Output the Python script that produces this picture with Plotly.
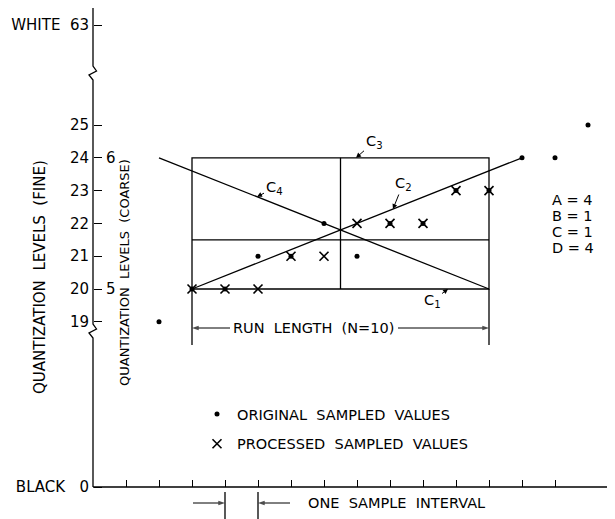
import plotly.graph_objects as go

# ---------------- data ----------------
orig_x = [2, 3, 4, 5, 6, 7, 8, 9, 10, 11, 12, 13, 14, 15]
orig_y = [19, 20, 20, 21, 21, 22, 21, 22, 22, 23, 23, 24, 24, 25]
proc_x = [3, 4, 5, 6, 7, 8, 9, 10, 11, 12]
proc_y = [20, 20, 20, 21, 21, 22, 22, 22, 23, 23]
fine_levels = [19, 20, 21, 22, 23, 24, 25]
coarse_labels = ["5", "6"]
coarse_at_fine = [20, 24]
sample_ticks = list(range(1, 15))
run_start, run_end = 3, 12
run_low, run_high = 20, 24
coarse_boundary = 21.5
c2_x = [3, 13]
c2_y = [20, 24]
c4_x = [2, 12]
c4_y = [24, 20]
code_names = ["A", "B", "C", "D"]
code_values = [4, 1, 1, 4]

# ---------------- layout geometry ----------------
OFF = 8                  # page body margin
W, H = 615 - OFF, 519 - OFF
X0PX, SX = 93, 33.0      # reference pixel of x=0, pixels per sample
Y25PX, SY = 125, 32.8    # reference pixel of level 25, pixels per level


def P(px, py):
    return (px - X0PX) / SX, 25 - (py - Y25PX) / SY


xr = [P(OFF, 0)[0], P(615, 0)[0]]
yr = [P(0, 519)[1], P(0, OFF)[1]]
y_black = P(0, 487)[1]
y_white = P(0, 25)[1]
ypos_x_axis = (y_black - yr[0]) / (yr[1] - yr[0])
xpos_y_axis = (0 - xr[0]) / (xr[1] - xr[0])

FONT = "DejaVu Sans"
BLK = "black"
LW = 1.3
FS = 14.5
SP2 = "\u00a0\u00a0"

fig = go.Figure()

fig.add_trace(go.Scatter(x=c2_x, y=c2_y, mode="lines", line=dict(color=BLK, width=LW),
                         showlegend=False, hoverinfo="skip"))
fig.add_trace(go.Scatter(x=c4_x, y=c4_y, mode="lines", line=dict(color=BLK, width=LW),
                         showlegend=False, hoverinfo="skip"))
fig.add_trace(go.Scatter(x=orig_x, y=orig_y, mode="markers", name="ORIGINAL  SAMPLED  VALUES",
                         marker=dict(symbol="circle", size=5, color=BLK),
                         legendgroup="o", cliponaxis=False))
fig.add_trace(go.Scatter(x=proc_x, y=proc_y, mode="markers", name="PROCESSED  SAMPLED  VALUES",
                         marker=dict(symbol="x-thin", size=9, color=BLK,
                                     line=dict(color=BLK, width=1.6)),
                         legendgroup="p", cliponaxis=False))


def arrow(tip, tail):
    fig.add_trace(go.Scatter(x=[tail[0], tip[0]], y=[tail[1], tip[1]], mode="lines+markers",
                             line=dict(color=BLK, width=1),
                             marker=dict(symbol=["circle", "arrow"], size=[0, 7], color=BLK,
                                         angleref="previous", line=dict(width=0)),
                             showlegend=False, hoverinfo="skip", cliponaxis=False))


shapes = []
# x axis line
shapes.append(dict(type="line", x0=0, x1=xr[1], y0=y_black, y1=y_black,
                   line=dict(color=BLK, width=LW)))
# y axis with breaks
pts = [(93, 8), (93, 66), (96.5, 71), (89, 75), (93, 80),
       (93, 324), (96.5, 329), (89, 333), (93, 338), (93, 487)]
path = "M " + " L ".join("%.4f,%.4f" % P(a, b) for a, b in pts)
shapes.append(dict(type="path", path=path, line=dict(color=BLK, width=LW)))
# box
shapes.append(dict(type="rect", x0=run_start, x1=run_end, y0=run_low, y1=run_high,
                   line=dict(color=BLK, width=LW)))
shapes.append(dict(type="line", x0=run_start, x1=run_end, y0=coarse_boundary, y1=coarse_boundary,
                   line=dict(color=BLK, width=LW)))
mid_x = (run_start + run_end) / 2
shapes.append(dict(type="line", x0=mid_x, x1=mid_x, y0=run_low, y1=run_high,
                   line=dict(color=BLK, width=LW)))
ext_y = P(0, 345)[1]
for xx in (run_start, run_end):
    shapes.append(dict(type="line", x0=xx, x1=xx, y0=run_low, y1=ext_y,
                       line=dict(color=BLK, width=LW)))

ann = []
tf = dict(family=FONT, size=FS, color=BLK)


def lead(text, tip, tail):
    ann.append(dict(x=tip[0], y=tip[1], ax=tail[0], ay=tail[1], axref="x", ayref="y",
                    xref="x", yref="y", text=text, showarrow=True, arrowhead=2,
                    arrowsize=1, arrowwidth=1, arrowcolor=BLK, font=tf, standoff=0))


# curve labels
lead("C<sub>1</sub>", (10.76, 20.0), P(432, 301))
lead("C<sub>2</sub>", (9.09, 20 + 0.4 * 6.09), P(403, 184))
lead("C<sub>3</sub>", (7.97, 24.0), P(374, 142))
lead("C<sub>4</sub>", (4.97, 24 - 0.4 * 2.97), P(274, 188))

# run length
yrun = P(0, 328)[1]
ann.append(dict(x=P(313, 0)[0], y=yrun, xref="x", yref="y", text="RUN  LENGTH  (N=10)",
                showarrow=False, font=tf))
arrow((run_start, yrun), (P(230, 0)[0], yrun))
arrow((run_end, yrun), (P(398, 0)[0], yrun))

# code values
for i, (n, v) in enumerate(zip(code_names, code_values)):
    ann.append(dict(x=P(550, 0)[0], y=P(0, 200 + 16 * i)[1], xref="x", yref="y",
                    xanchor="left", showarrow=False, font=tf, text="%s = %d" % (n, v)))

# axis titles
ann.append(dict(x=P(40, 0)[0], y=P(0, 277)[1], xref="x", yref="y", textangle=-90,
                text="QUANTIZATION" + SP2 + "LEVELS" + SP2 + "(FINE)", showarrow=False,
                font=dict(family=FONT, size=15, color=BLK)))
ann.append(dict(x=P(124, 0)[0], y=P(0, 273)[1], xref="x", yref="y", textangle=-90,
                text="QUANTIZATION  LEVELS  (COARSE)", showarrow=False,
                font=dict(family=FONT, size=13, color=BLK)))

# one sample interval
yb = P(0, 503)[1]
ann.append(dict(x=P(306, 0)[0], y=yb, xref="x", yref="y", xanchor="left",
                text="ONE  SAMPLE  INTERVAL", showarrow=False, font=tf))
arrow((4, yb), (P(193, 0)[0], yb))
arrow((5, yb), (P(290, 0)[0], yb))
for xx in (4, 5):
    shapes.append(dict(type="line", x0=xx, x1=xx, y0=P(0, 492)[1], y1=P(0, 519)[1],
                       line=dict(color=BLK, width=LW)))

fig.update_layout(
    width=W, height=H, margin=dict(l=0, r=0, t=0, b=0),
    paper_bgcolor="white", plot_bgcolor="white",
    shapes=shapes, annotations=ann,
    font=tf,
    showlegend=True,
    legend=dict(x=(197 - OFF) / W, y=1 - (398 - OFF) / H, xanchor="left", yanchor="top",
                bgcolor="rgba(0,0,0,0)", tracegroupgap=8, font=tf, itemwidth=30),
    xaxis=dict(range=xr, anchor="free", position=ypos_x_axis, showgrid=False, zeroline=False,
               showline=False, ticks="inside", ticklen=7, tickwidth=1.2, tickcolor=BLK,
               tickvals=sample_ticks, showticklabels=False, automargin=False),
    yaxis=dict(range=yr, anchor="free", position=xpos_y_axis, showgrid=False, zeroline=False,
               showline=False, ticks="inside", ticklen=8, tickwidth=1.2, tickcolor=BLK,
               tickvals=[y_black] + fine_levels + [y_white],
               ticktext=["BLACK\u00a0\u00a0\u00a00"] + [str(v) for v in fine_levels]
               + ["WHITE\u00a0\u00a063"],
               tickfont=dict(family=FONT, size=15, color=BLK), ticklabelstandoff=4,
               automargin=False),
    yaxis2=dict(range=yr, overlaying="y", anchor="free", position=xpos_y_axis, side="right",
                showgrid=False, zeroline=False, showline=False, ticks="outside", ticklen=8,
                tickwidth=1.2, tickcolor=BLK, tickvals=coarse_at_fine, ticktext=coarse_labels,
                tickfont=dict(family=FONT, size=15, color=BLK), ticklabelstandoff=1,
                automargin=False),
)
# invisible trace so the coarse-level axis is drawn
fig.add_trace(go.Scatter(x=[None], y=[None], yaxis="y2", showlegend=False, hoverinfo="skip"))

fig.write_html("out.html")
